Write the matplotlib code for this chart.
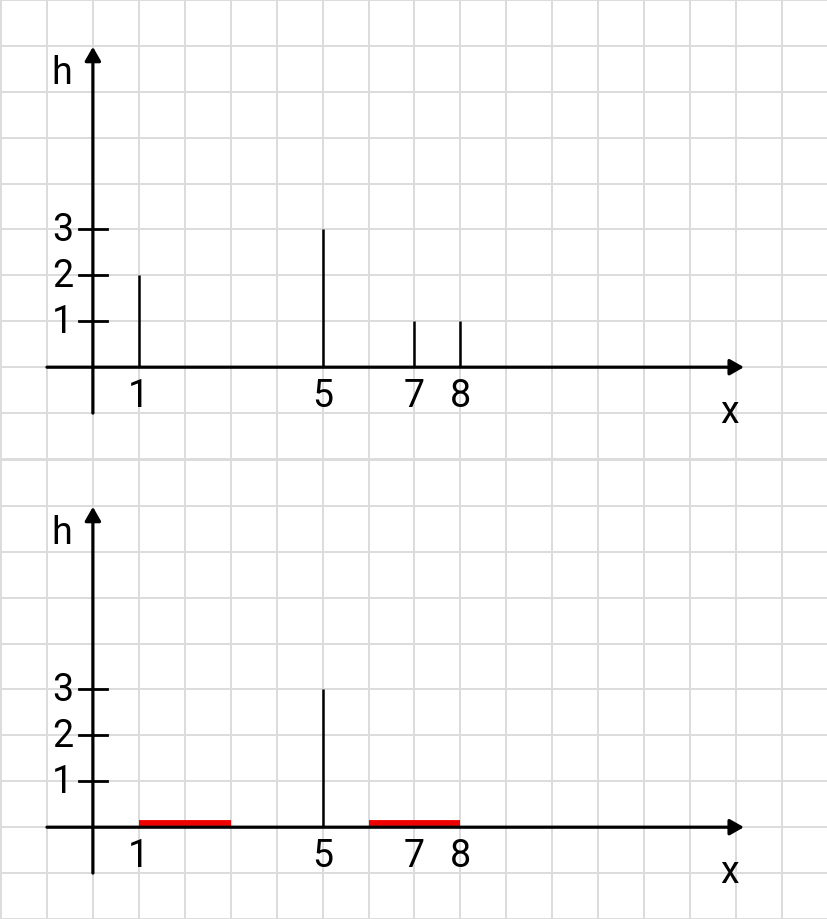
import matplotlib.pyplot as plt

# top diagram: all stems
stem_x = [1, 5, 7, 8]
stem_h = [2, 3, 1, 1]

# bottom diagram: one stem left, the rest smeared out as red intervals
stem_x2 = [5]
stem_h2 = [3]
red_from = [1, 6]
red_to = [3, 8]

x_ticks = [1, 5, 7, 8]
y_ticks = [1, 2, 3]

plt.rcParams['font.family'] = ['Roboto', 'DejaVu Sans']

fig = plt.figure(figsize=(8.28, 9.2), dpi=100)
top = fig.add_axes([0, 0.5, 1, 0.5])
bottom = fig.add_axes([0, 0, 1, 0.5])

u = 46.0  # pixels per unit


def draw_axes(ax):
    ax.set_xlim(-93 / u, (828 - 93) / u)
    ax.set_ylim((369 - 460) / u, 369 / u)
    ax.set_xticks(range(-2, 17))
    ax.set_yticks(range(-2, 9))
    ax.grid(True, color='#dcdcdc', lw=1.4)
    ax.tick_params(length=0, labelbottom=False, labelleft=False)
    for s in ax.spines.values():
        s.set_visible(False)
    ax.set_axisbelow(True)

    arrow = dict(arrowstyle='-|>,head_length=0.7,head_width=0.4',
                 lw=2.3, color='black', shrinkA=0, shrinkB=0,
                 mutation_scale=12)
    ax.annotate('', xy=(14.17, 0), xytext=(-1, 0), arrowprops=arrow)
    ax.annotate('', xy=(0, 6.98), xytext=(0, -1), arrowprops=arrow)

    for t in y_ticks:
        ax.plot([-0.3, 0.3], [t, t], color='black', lw=2.0)
        ax.text(-0.43, t, str(t), ha='right', va='center', fontsize=27)
    for t in x_ticks:
        ax.text(t, -0.22, str(t), ha='center', va='top', fontsize=27)

    ax.text(-0.67, 6.43, 'h', ha='center', va='center', fontsize=27)
    ax.text(13.85, -0.96, 'x', ha='center', va='center', fontsize=27)


draw_axes(top)
top.vlines(stem_x, 0, stem_h, color='black', lw=1.8)

draw_axes(bottom)
bottom.vlines(stem_x2, 0, stem_h2, color='black', lw=1.8)
bottom.hlines([0.1] * len(red_from), red_from, red_to, color='#ee0000', lw=4.2)

fig.savefig('out.png', dpi=100)
